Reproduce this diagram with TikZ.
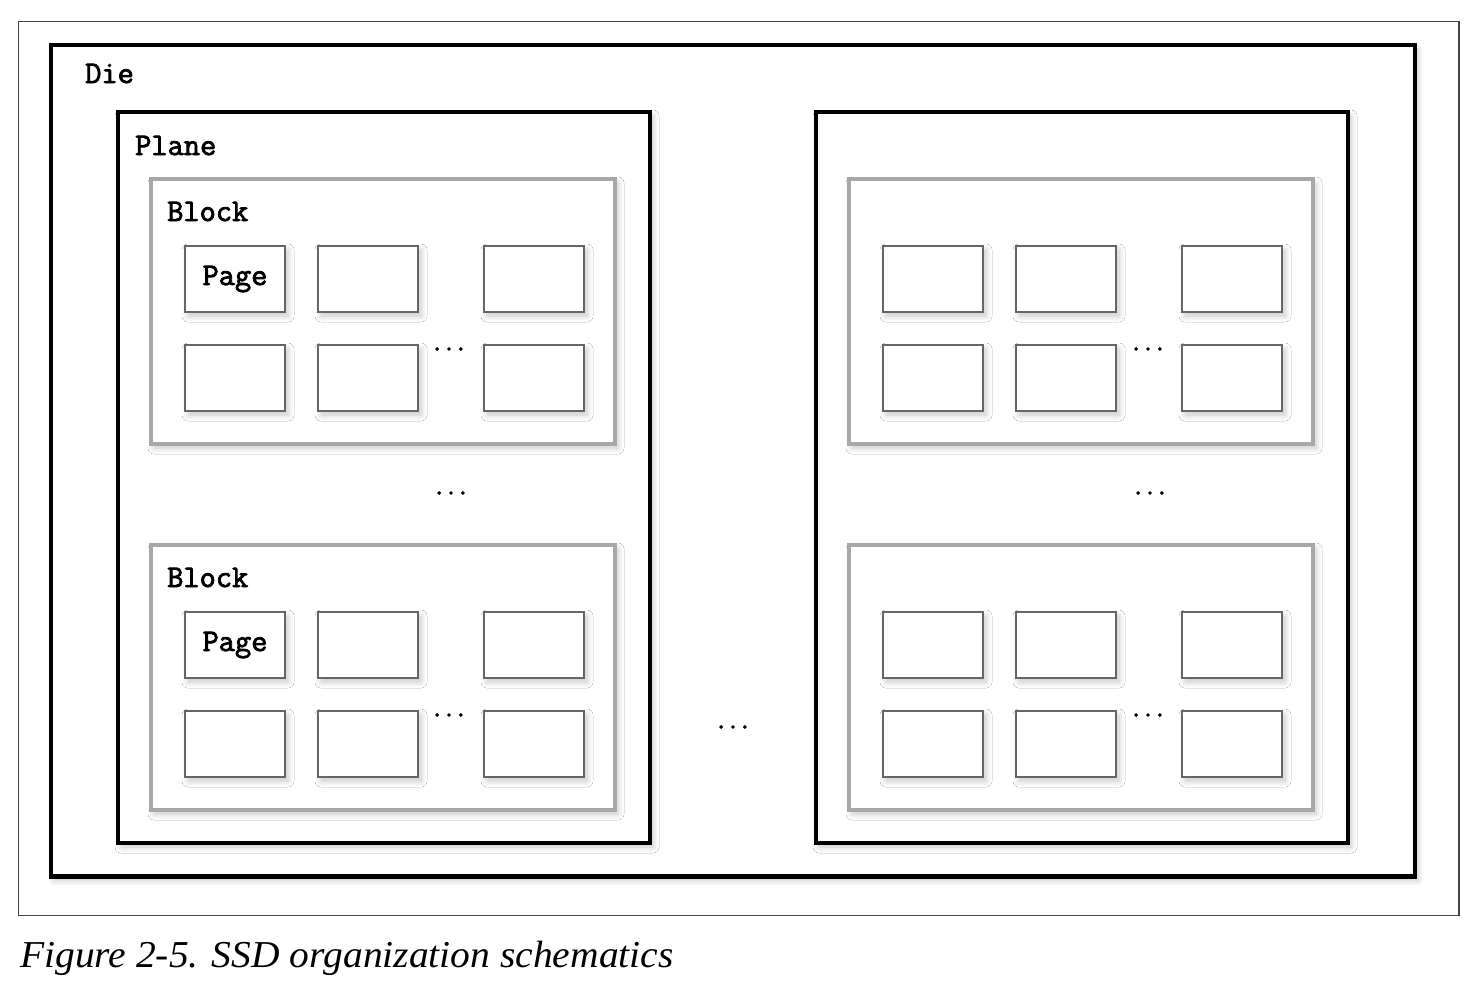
\documentclass[tikz,border=0pt]{standalone}
\usepackage{fontspec}
\newfontfamily\lblfont{Latin Modern Mono}[FakeBold=2.5]
\newfontfamily\dotfont{Latin Modern Roman}[FakeBold=2.5]
\newfontfamily\capfont{Liberation Serif}
\usetikzlibrary{shadows.blur}
\definecolor{blockgray}{HTML}{A8A8A8}
\definecolor{pagegray}{HTML}{666666}
\definecolor{framegray}{HTML}{444444}
\tikzset{
  softshadow/.style={blur shadow={shadow blur steps=8, shadow xshift=3pt, shadow yshift=-4pt, shadow blur radius=6pt, shadow opacity=22}},
  framebox/.style={draw=framegray, line width=1.2pt, inner sep=0pt, outer sep=0pt},
  diebox/.style={draw=black, line width=4.5pt, fill=white, inner sep=0pt, outer sep=0pt, softshadow},
  planebox/.style={draw=black, line width=4.5pt, fill=white, inner sep=0pt, outer sep=0pt, softshadow},
  blockbox/.style={draw=blockgray, line width=4pt, fill=white, inner sep=0pt, outer sep=0pt, softshadow},
  pagebox/.style={draw=pagegray, line width=2pt, fill=white, inner sep=0pt, outer sep=0pt,
    minimum width=100pt, minimum height=66pt, softshadow},
  pagetext/.style={inner sep=0pt, font=\fontsize{31.5}{31.5}\selectfont\lblfont},
  lbl/.style={anchor=base west, inner sep=0pt, font=\fontsize{31.5}{31.5}\selectfont\lblfont},
  dots/.style={inner sep=0pt, font=\fontsize{33}{33}\selectfont\dotfont},
}
\newcommand\mydots{.\kern3.6pt.\kern3.6pt.}
\begin{document}
\begin{tikzpicture}[x=1pt,y=-1pt]
\useasboundingbox (0,0) rectangle (1476,996);
% outer frame
\node[framebox, minimum width=1440.5pt, minimum height=894pt] (frame) at (738.75,468.5) {};
% die
\node[diebox, minimum width=1364pt, minimum height=831.5pt] (die) at (733,460.75) {};
\node[lbl] (dielbl) at (85,83) {Die};
% planes
\node[planebox, minimum width=532pt, minimum height=731pt] (planeL) at (384,477.5) {};
\node[planebox, minimum width=532pt, minimum height=731pt] (planeR) at (1082,477.5) {};
\node[lbl] (planelbl) at (135,155) {Plane};
% blocks
\foreach \px/\nm in {0/L,698/R}{
  \node[blockbox, minimum width=464pt, minimum height=265pt] (blk\nm1) at ({383+\px},311.5) {};
  \node[blockbox, minimum width=464pt, minimum height=265pt] (blk\nm2) at ({383+\px},677.5) {};
}
\node[lbl] (blklbl1) at (167,221) {Block};
\node[lbl] (blklbl2) at (167,587) {Block};
% pages
\foreach \px/\nm in {0/L,698/R}{
  \foreach \by/\b in {0/1,366/2}{
    \foreach \cx/\c in {235/1,368/2,534/3}{
      \foreach \ry/\r in {279/1,378/2}{
        \node[pagebox] (pg\nm\b\r\c) at ({\cx+\px},{\ry+\by}) {};
      }
    }
  }
}
\node[pagetext] (pgtxt1) at (pgL111) {Page};
\node[pagetext] (pgtxt2) at (pgL211) {Page};
% dots
\node[dots] (d1) at (449,349) {\mydots};
\node[dots] (d2) at (449,715) {\mydots};
\node[dots] (d3) at (1148,349) {\mydots};
\node[dots] (d4) at (1148,715) {\mydots};
\node[dots] (d5) at (451,493) {\mydots};
\node[dots] (d6) at (1150,493) {\mydots};
\node[dots] (d7) at (733,727) {\mydots};
% caption
\node[anchor=base west, inner sep=0pt, font=\fontsize{38}{38}\selectfont\capfont\itshape] (cap) at (20,967) {\scalebox{1.04}[1]{Figure 2-5. SSD organization schematics}};
\end{tikzpicture}
\end{document}
